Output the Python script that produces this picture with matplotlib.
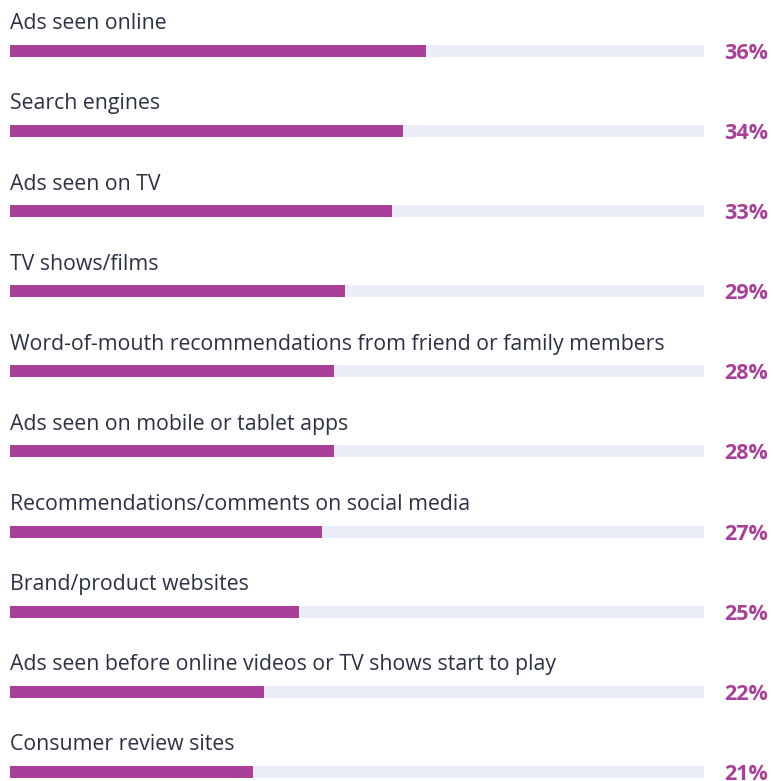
import matplotlib
matplotlib.use("Agg")
import matplotlib.pyplot as plt

# data
labels = [
    "Ads seen online",
    "Search engines",
    "Ads seen on TV",
    "TV shows/films",
    "Word-of-mouth recommendations from friend or family members",
    "Ads seen on mobile or tablet apps",
    "Recommendations/comments on social media",
    "Brand/product websites",
    "Ads seen before online videos or TV shows start to play",
    "Consumer review sites",
]
values = [36, 34, 33, 29, 28, 28, 27, 25, 22, 21]
track_max = 60

bar_color = "#AA3F99"
track_color = "#EBEEF8"
text_color = "#2B3045"

W, H = 773, 781
fig = plt.figure(figsize=(W / 100, H / 100), dpi=100)
ax = fig.add_axes([10 / W, 0, 694 / W, 1])

row_px = 80.1
first_px = 51
ax.set_ylim((H - first_px) / row_px, -first_px / row_px)
ax.set_xlim(0, track_max)
ax.axis("off")

ys = list(range(len(labels)))
bh = 12 / row_px
ax.barh(ys, [track_max] * len(ys), height=bh, color=track_color, left=0)
ax.barh(ys, values, height=bh, color=bar_color)

x_right = (768 - 10) / 694 * track_max
for y, lab, v in zip(ys, labels, values):
    ax.text(0, y - 0.27, lab, ha="left", va="baseline", fontsize=15.3,
            color=text_color, family="Open Sans", fontweight="normal", clip_on=False)
    ax.text(x_right, y + 0.03, f"{v}%", ha="right", va="center", fontsize=15.5,
            color=bar_color, family="Open Sans", fontweight="bold", clip_on=False)

fig.savefig("out.png", dpi=100)
